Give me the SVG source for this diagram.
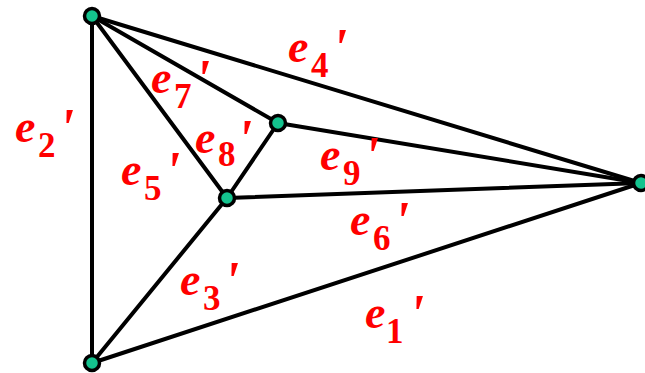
<svg xmlns="http://www.w3.org/2000/svg" width="645" height="373" viewBox="0 0 645 373">
<style>
.edge{stroke:#000;stroke-width:4;stroke-linecap:round;fill:none}
.node{fill:#14c38e;stroke:#000;stroke-width:3.5}
.lbl{font-family:"Liberation Serif","Times New Roman",serif;font-weight:bold;fill:#ff0000}
.e{font-style:italic;font-size:46px}
.sub{font-size:35px}
.pr{font-style:italic;font-size:54px}
</style>
<rect width="645" height="373" fill="#fff"/>
<g id="connectors">
<line class="edge" x1="92" y1="16" x2="92" y2="363"/>
<line class="edge" x1="92" y1="16" x2="641" y2="183"/>
<line class="edge" x1="92" y1="16" x2="278" y2="123"/>
<line class="edge" x1="92" y1="16" x2="227" y2="198"/>
<line class="edge" x1="278" y1="123" x2="227" y2="198"/>
<line class="edge" x1="278" y1="123" x2="641" y2="183"/>
<line class="edge" x1="227" y1="198" x2="641" y2="183"/>
<line class="edge" x1="227" y1="198" x2="92" y2="363"/>
<line class="edge" x1="92" y1="363" x2="641" y2="183"/>
</g>
<g id="nA"><circle class="node" cx="92" cy="16" r="7.5"/></g>
<g id="nB"><circle class="node" cx="92" cy="363" r="7.5"/></g>
<g id="nC"><circle class="node" cx="227" cy="198" r="7.5"/></g>
<g id="nD"><circle class="node" cx="278" cy="123" r="7.5"/></g>
<g id="nE"><circle class="node" cx="641" cy="183" r="7.5"/></g>
<g id="labels" class="lbl">
<text><tspan class="e" x="15" y="142">e</tspan><tspan class="sub" x="38" y="157">2</tspan><tspan class="pr" x="59" y="146">'</tspan></text>
<text><tspan class="e" x="288" y="62">e</tspan><tspan class="sub" x="311" y="77">4</tspan><tspan class="pr" x="332" y="66">'</tspan></text>
<text><tspan class="e" x="151" y="93">e</tspan><tspan class="sub" x="174" y="108">7</tspan><tspan class="pr" x="195" y="97">'</tspan></text>
<text><tspan class="e" x="121" y="185">e</tspan><tspan class="sub" x="144" y="200">5</tspan><tspan class="pr" x="165" y="189">'</tspan></text>
<text><tspan class="e" x="195" y="153">e</tspan><tspan class="sub" x="218" y="166">8</tspan><tspan class="pr" x="237" y="157">'</tspan></text>
<text><tspan class="e" x="320" y="170">e</tspan><tspan class="sub" x="343" y="185">9</tspan><tspan class="pr" x="364" y="174">'</tspan></text>
<text><tspan class="e" x="350" y="235">e</tspan><tspan class="sub" x="373" y="250">6</tspan><tspan class="pr" x="394" y="239">'</tspan></text>
<text><tspan class="e" x="180" y="295">e</tspan><tspan class="sub" x="203" y="310">3</tspan><tspan class="pr" x="224" y="299">'</tspan></text>
<text><tspan class="e" x="365" y="328">e</tspan><tspan class="sub" x="386" y="343">1</tspan><tspan class="pr" x="409" y="332">'</tspan></text>
</g>
</svg>
